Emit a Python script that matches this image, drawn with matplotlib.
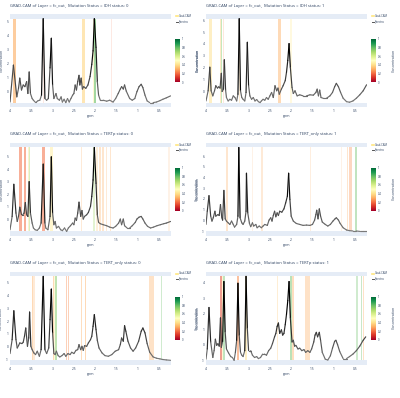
import numpy as np
import matplotlib
matplotlib.use("Agg")
import matplotlib.pyplot as plt
from matplotlib.collections import LineCollection
from matplotlib.colors import LinearSegmentedColormap, Normalize
from matplotlib.lines import Line2D
import matplotlib as mpl

# ---------------- data ----------------
titles = [
    "GRAD-CAM of Layer = fc_out,  Mutation Status = IDH status: 0",
    "GRAD-CAM of Layer = fc_out,  Mutation Status = IDH status: 1",
    "GRAD-CAM of Layer = fc_out,  Mutation Status = TERTp status: 0",
    "GRAD-CAM of Layer = fc_out,  Mutation Status = TERT_only status: 1",
    "GRAD-CAM of Layer = fc_out,  Mutation Status = TERT_only status: 0",
    "GRAD-CAM of Layer = fc_out,  Mutation Status = TERTp status: 1",
]
x_ticks = [4, 3.5, 3, 2.5, 2, 1.5, 1, 0.5]
x_tick_labels = ["4", "3.5", "3", "2.5", "2", "1.5", "1", "0.5"]
cbar_ticks = [0, 0.2, 0.4, 0.6, 0.8, 1]
cbar_tick_labels = ["0", "0.2", "0.4", "0.6", "0.8", "1"]

ppm_idh0 = [4.00, 3.92, 3.84, 3.80, 3.77, 3.73, 3.69, 3.65, 3.61, 3.58, 3.55, 3.52, 3.48, 3.45, 3.41, 3.38, 3.34, 3.30, 3.26, 3.22,
            3.18, 3.14, 3.10, 3.06, 3.03, 3.00, 2.97, 2.92, 2.89, 2.84, 2.80, 2.77, 2.73, 2.69, 2.65, 2.61, 2.57, 2.53, 2.50, 2.47,
            2.44, 2.41, 2.38, 2.36, 2.33, 2.30, 2.27, 2.22, 2.17, 2.12, 2.08, 2.05, 2.02, 1.98, 1.95, 1.92, 1.88, 1.81, 1.73, 1.66,
            1.58, 1.52, 1.46, 1.41, 1.38, 1.34, 1.31, 1.27, 1.19, 1.13, 1.07, 1.02, 0.97, 0.92, 0.88, 0.83, 0.78, 0.72, 0.64, 0.56,
            0.48, 0.41, 0.33, 0.23]
conc_idh0 = [-0.76, 1.88, -0.39, 0.22, 0.95, 0.10, 0.46, 0.34, 0.70, -0.15, 1.39, -0.15, -0.51, -0.63, -0.76, -0.76, -0.66, -0.63, -0.27, 5.20,
             -0.51, -0.63, -0.51, 1.68, 3.80, 0.46, -0.51, -0.15, -0.51, -0.63, -0.39, -0.76, -0.56, -0.80, -0.51, -0.76, -0.51, -0.27, -0.15, 0.46,
             0.10, 0.70, 1.15, 0.46, 0.95, 0.17, 0.34, 0.22, 0.46, 1.07, 1.93, 2.90, 5.20, 3.15, 0.70, -0.27, -0.63, -0.63, -0.70, -0.63,
             -0.76, -0.51, -0.15, 0.17, 0.34, 0.17, 0.46, 0.02, -0.51, -0.63, -0.51, -0.02, 0.34, 0.51, 0.27, -0.27, -0.68, -0.80, -0.80, -0.76,
             -0.66, -0.56, -0.46, -0.32]

ppm_idh1 = [4.00, 3.95, 3.91, 3.88, 3.84, 3.80, 3.77, 3.73, 3.70, 3.67, 3.64, 3.62, 3.59, 3.57, 3.54, 3.52, 3.48, 3.44, 3.40, 3.36,
            3.32, 3.28, 3.25, 3.22, 3.19, 3.16, 3.13, 3.09, 3.06, 3.03, 3.00, 2.97, 2.93, 2.89, 2.85, 2.81, 2.77, 2.73, 2.70, 2.66,
            2.62, 2.58, 2.54, 2.50, 2.46, 2.42, 2.38, 2.34, 2.31, 2.28, 2.23, 2.19, 2.14, 2.11, 2.08, 2.05, 2.02, 1.98, 1.95, 1.91,
            1.86, 1.80, 1.72, 1.64, 1.56, 1.48, 1.42, 1.39, 1.36, 1.33, 1.30, 1.25, 1.17, 1.09, 1.03, 0.98, 0.94, 0.89, 0.84, 0.78,
            0.70, 0.63, 0.55, 0.47, 0.39, 0.31, 0.23]
conc_idh1 = [-0.83, 0.03, 2.03, 0.03, -0.40, 0.03, 0.46, 0.26, 0.37, 0.26, 1.51, -0.03, 0.17, 2.66, 0.09, -0.54, -0.83, -0.69, -0.77, -0.40,
             -0.54, -0.83, -0.26, 6.14, 0.03, -0.54, -0.69, -0.83, -0.11, 4.14, 0.46, -0.40, -0.69, -0.54, -0.83, -0.71, -0.89, -0.97, -0.83, -0.69,
             -0.77, -0.54, -0.69, -0.40, -0.11, -0.54, 0.46, 0.03, 0.26, -0.26, 0.17, 0.46, 0.89, 1.60, 2.60, 4.03, 2.03, 0.31, -0.20, 0.03,
             -0.40, -0.31, -0.40, -0.40, -0.31, -0.34, -0.11, 0.17, -0.40, 0.09, -0.54, -0.60, -0.60, -0.40, -0.11, 0.37, 0.66, 0.37, -0.11, -0.60,
             -0.89, -0.94, -0.83, -0.60, -0.31, 0.03, 0.54]

ppm_tertp0 = [4.00, 3.95, 3.91, 3.86, 3.83, 3.80, 3.77, 3.73, 3.70, 3.67, 3.64, 3.61, 3.58, 3.55, 3.52, 3.48, 3.45, 3.41, 3.36, 3.31,
              3.27, 3.22, 3.18, 3.16, 3.11, 3.06, 3.03, 3.00, 2.97, 2.94, 2.91, 2.86, 2.81, 2.77, 2.72, 2.67, 2.63, 2.58, 2.53, 2.50,
              2.47, 2.44, 2.41, 2.38, 2.34, 2.31, 2.28, 2.25, 2.20, 2.16, 2.11, 2.08, 2.05, 2.02, 1.98, 1.95, 1.92, 1.88, 1.81, 1.73,
              1.66, 1.58, 1.52, 1.45, 1.41, 1.38, 1.34, 1.31, 1.25, 1.19, 1.13, 1.06, 1.02, 0.97, 0.92, 0.88, 0.83, 0.77, 0.70, 0.63,
              0.55, 0.47, 0.39, 0.33, 0.23]
conc_tertp0 = [-0.82, 0.24, 2.79, 0.50, -0.16, 0.24, 0.97, 0.37, 0.37, 0.50, 1.34, 0.37, 0.24, 3.00, 0.50, -0.29, -0.68, -0.82, -0.87, -0.68,
               -0.29, 4.39, -0.29, -0.68, -0.82, 0.24, 4.97, 0.50, -0.42, -0.16, -0.68, -0.55, -0.82, -0.89, -0.68, -0.95, -0.68, -0.50, -0.29, -0.42,
               0.11, -0.08, 0.50, 1.37, 0.24, 0.71, 0.03, 0.24, 0.37, 0.55, 1.03, 1.82, 3.13, 5.71, 2.87, 0.37, -0.24, -0.34, -0.42, -0.50,
               -0.61, -0.68, -0.55, -0.29, 0.03, -0.42, 0.03, -0.50, -0.68, -0.68, -0.50, -0.24, 0.03, 0.18, 0.24, 0.03, -0.29, -0.55, -0.68, -0.61,
               -0.50, -0.42, -0.34, -0.29, -0.16]

ppm_tertonly1 = [4.00, 3.97, 3.93, 3.89, 3.86, 3.83, 3.79, 3.77, 3.72, 3.69, 3.66, 3.63, 3.61, 3.58, 3.55, 3.52, 3.48, 3.44, 3.40, 3.36,
                 3.33, 3.28, 3.25, 3.23, 3.20, 3.16, 3.13, 3.09, 3.06, 3.05, 3.02, 2.98, 2.95, 2.91, 2.88, 2.83, 2.80, 2.75, 2.70, 2.66,
                 2.62, 2.56, 2.52, 2.48, 2.45, 2.42, 2.39, 2.36, 2.33, 2.30, 2.27, 2.22, 2.17, 2.13, 2.09, 2.06, 2.03, 2.00, 1.95, 1.88,
                 1.80, 1.72, 1.64, 1.56, 1.50, 1.45, 1.42, 1.40, 1.37, 1.34, 1.31, 1.27, 1.20, 1.14, 1.08, 1.02, 0.97, 0.94, 0.89, 0.85,
                 0.78, 0.70, 0.63, 0.55, 0.47, 0.39, 0.31, 0.23]
conc_tertonly1 = [-0.37, 0.86, 2.31, 0.40, -0.06, 0.25, 0.86, 0.40, 0.55, 0.46, 1.48, 0.25, 0.03, 2.80, 0.15, -0.06, -0.22, -0.37, -0.06, -0.37,
                  -0.62, -0.37, 0.40, 6.80, 0.25, -0.22, -0.37, -0.06, 0.86, 4.40, 0.71, -0.28, -0.58, -0.22, -0.52, -0.37, -0.68, -0.52, -0.68, -0.52,
                  -0.37, -0.46, 0.03, 0.25, -0.06, 0.46, 0.86, 0.34, 0.71, 0.46, 0.86, 0.77, 1.08, 1.63, 2.25, 4.40, 1.94, 0.40, -0.06, -0.28,
                  -0.37, -0.46, -0.43, -0.46, -0.37, 0.03, 0.55, 0.95, 0.15, 1.08, 0.40, -0.15, -0.37, -0.52, -0.37, -0.06, 0.15, 0.25, 0.03, -0.28,
                  -0.68, -0.89, -0.95, -0.98, -0.98, -1.02, -1.02, -1.02]

ppm_tertonly0 = [4.00, 3.95, 3.91, 3.86, 3.83, 3.80, 3.77, 3.72, 3.69, 3.66, 3.63, 3.59, 3.56, 3.54, 3.51, 3.48, 3.44, 3.40, 3.36, 3.31,
                 3.27, 3.22, 3.18, 3.14, 3.09, 3.06, 3.03, 3.00, 2.97, 2.94, 2.91, 2.87, 2.83, 2.78, 2.73, 2.69, 2.64, 2.59, 2.55, 2.50,
                 2.45, 2.41, 2.38, 2.34, 2.31, 2.28, 2.25, 2.20, 2.16, 2.11, 2.08, 2.05, 2.02, 1.98, 1.95, 1.91, 1.84, 1.77, 1.69, 1.61,
                 1.53, 1.45, 1.41, 1.38, 1.34, 1.31, 1.28, 1.23, 1.17, 1.11, 1.05, 0.98, 0.92, 0.88, 0.83, 0.78, 0.72, 0.64, 0.56, 0.48,
                 0.41, 0.33, 0.23]
conc_tertonly0 = [-0.51, 0.56, 2.79, 0.56, -0.08, 0.10, 0.31, 0.26, 0.36, 0.82, 1.46, 0.05, 0.69, 2.69, 0.05, -0.21, -0.46, -0.59, -0.33, -0.72,
                  -0.21, 5.44, -0.21, -0.51, -0.08, 2.10, 4.46, 1.08, -0.51, -0.59, -0.33, -0.67, -0.77, -0.67, -0.51, -0.72, -0.51, -0.59, -0.41, -0.51,
                  -0.26, -0.21, 0.18, -0.21, 0.05, -0.26, 0.10, 0.05, 0.31, 0.56, 0.82, 1.59, 2.49, 1.33, 0.51, -0.08, -0.46, -0.67, -0.72, -0.59,
                  -0.33, -0.21, 0.18, 0.69, 0.44, 1.64, 1.21, 0.44, -0.08, -0.33, -0.08, 0.44, 1.21, 1.46, 1.08, 0.26, -0.41, -0.77, -0.87, -0.92,
                  -0.97, -1.00, -1.03]

ppm_tertp1 = [4.00, 3.97, 3.93, 3.89, 3.84, 3.81, 3.78, 3.75, 3.72, 3.69, 3.66, 3.64, 3.61, 3.58, 3.55, 3.52, 3.47, 3.42, 3.38, 3.34,
              3.31, 3.28, 3.25, 3.22, 3.19, 3.16, 3.13, 3.09, 3.06, 3.03, 3.00, 2.95, 2.91, 2.86, 2.81, 2.77, 2.72, 2.67, 2.63, 2.58,
              2.53, 2.48, 2.44, 2.39, 2.36, 2.33, 2.30, 2.27, 2.23, 2.20, 2.17, 2.14, 2.11, 2.08, 2.05, 2.02, 1.98, 1.95, 1.92, 1.89,
              1.84, 1.80, 1.75, 1.70, 1.66, 1.61, 1.56, 1.52, 1.47, 1.44, 1.41, 1.38, 1.34, 1.31, 1.27, 1.20, 1.14, 1.08, 1.03, 0.98,
              0.95, 0.91, 0.86, 0.78, 0.70, 0.63, 0.55, 0.47, 0.39, 0.31, 0.25]
conc_tertp1 = [-0.93, -0.27, 2.40, 0.18, -0.82, -0.38, 0.36, -0.04, 0.07, -0.09, 1.73, -0.16, 0.22, 4.07, 0.84, -0.27, -0.53, -0.76, -0.82, -1.00,
               -0.49, 0.29, 3.96, 0.62, -0.49, -0.67, -0.76, -0.38, 4.40, 1.07, -0.38, -0.38, -0.67, -0.82, -0.76, -0.89, -0.82, -0.60, -0.60, -0.67,
               -0.38, -0.22, 0.07, 0.51, 0.73, 1.18, 1.40, 0.73, 0.96, 0.62, 0.73, 1.29, 1.96, 2.84, 4.07, 1.73, 0.18, 0.29, -0.09, -0.04,
               -0.27, -0.22, -0.38, -0.31, -0.49, -0.38, -0.49, -0.27, 0.18, 0.62, 0.80, 0.51, 0.80, 0.29, -0.49, -0.93, -0.98, -0.71, -0.22, 0.22,
               0.29, 0.00, -0.44, -0.89, -0.89, -0.76, -0.60, -0.38, -0.09, 0.29, 0.51]

# Grad-CAM highlighted regions: ppm start, ppm end, importance, opacity
cam_lo_idh0 = [3.92, 3.225, 2.30, 2.04, 2.03, 1.62]
cam_hi_idh0 = [3.86, 3.21, 2.23, 2.03, 1.97, 1.61]
cam_val_idh0 = [0.30, 0.20, 0.38, 0.45, 0.80, 0.20]
cam_alpha_idh0 = [0.6, 0.15, 0.6, 0.5, 0.6, 0.15]

cam_lo_idh1 = [3.92, 3.67, 3.65, 3.61, 3.225, 2.30, 2.02]
cam_hi_idh1 = [3.87, 3.65, 3.62, 3.58, 3.21, 2.25, 1.98]
cam_val_idh1 = [0.40, 0.35, 0.75, 0.25, 0.35, 0.30, 0.45]
cam_alpha_idh1 = [0.5, 0.4, 0.45, 0.2, 0.3, 0.45, 0.35]

cam_lo_tertp0 = [3.78, 3.67, 3.58, 3.55, 3.25, 3.06, 2.39, 2.34, 2.05, 1.97, 1.90, 1.83, 1.75, 1.66, 0.29]
cam_hi_tertp0 = [3.73, 3.63, 3.55, 3.52, 3.19, 3.00, 2.37, 2.31, 2.01, 1.94, 1.86, 1.80, 1.72, 1.63, 0.25]
cam_val_tertp0 = [0.20, 0.20, 0.42, 0.70, 0.20, 0.45, 0.30, 0.30, 0.70, 0.35, 0.30, 0.30, 0.30, 0.30, 0.30]
cam_alpha_tertp0 = [0.55, 0.55, 0.45, 0.4, 0.55, 0.55, 0.2, 0.25, 0.3, 0.25, 0.3, 0.3, 0.25, 0.3, 0.15]

cam_lo_tertonly1 = [3.52, 2.92, 2.70, 1.55, 0.83, 0.70, 0.64, 0.50]
cam_hi_tertonly1 = [3.48, 2.90, 2.67, 1.53, 0.81, 0.66, 0.58, 0.46]
cam_val_tertonly1 = [0.30, 0.30, 0.30, 0.30, 0.30, 0.30, 0.25, 0.80]
cam_alpha_tertonly1 = [0.3, 0.15, 0.25, 0.2, 0.15, 0.3, 0.35, 0.4]

cam_lo_tertonly0 = [3.49, 3.45, 3.00, 2.97, 2.94, 2.68, 2.63, 2.33, 2.24, 0.73, 0.46]
cam_hi_tertonly0 = [3.47, 3.42, 2.97, 2.95, 2.89, 2.66, 2.61, 2.30, 2.21, 0.62, 0.44]
cam_val_tertonly0 = [0.30, 0.30, 0.30, 0.45, 0.75, 0.25, 0.25, 0.30, 0.30, 0.30, 0.80]
cam_alpha_tertonly0 = [0.45, 0.25, 0.45, 0.4, 0.5, 0.4, 0.4, 0.4, 0.45, 0.35, 0.3]

cam_lo_tertp1 = [3.68, 3.62, 3.59, 3.28, 3.08, 2.34, 2.02, 1.97, 1.67, 0.47, 0.36, 0.32]
cam_hi_tertp1 = [3.62, 3.59, 3.55, 3.22, 3.03, 2.30, 1.98, 1.94, 1.56, 0.43, 0.33, 0.29]
cam_val_tertp1 = [0.15, 0.45, 0.80, 0.25, 0.40, 0.35, 0.80, 0.30, 0.30, 0.80, 0.80, 0.30]
cam_alpha_tertp1 = [0.55, 0.5, 0.4, 0.55, 0.5, 0.3, 0.45, 0.4, 0.35, 0.3, 0.35, 0.35]

panels = [
    (ppm_idh0, conc_idh0, cam_lo_idh0, cam_hi_idh0, cam_val_idh0, cam_alpha_idh0),
    (ppm_idh1, conc_idh1, cam_lo_idh1, cam_hi_idh1, cam_val_idh1, cam_alpha_idh1),
    (ppm_tertp0, conc_tertp0, cam_lo_tertp0, cam_hi_tertp0, cam_val_tertp0, cam_alpha_tertp0),
    (ppm_tertonly1, conc_tertonly1, cam_lo_tertonly1, cam_hi_tertonly1, cam_val_tertonly1, cam_alpha_tertonly1),
    (ppm_tertonly0, conc_tertonly0, cam_lo_tertonly0, cam_hi_tertonly0, cam_val_tertonly0, cam_alpha_tertonly0),
    (ppm_tertp1, conc_tertp1, cam_lo_tertp1, cam_hi_tertp1, cam_val_tertp1, cam_alpha_tertp1),
]

# ---------------- layout ----------------
W, H = 400, 398
fig = plt.figure(figsize=(W / 100, H / 100), dpi=100)
fig.patch.set_facecolor("white")
FONT = "Open Sans"
TXT = "#2a3f5f"
cmap = plt.get_cmap("RdYlGn")
line_cmap = LinearSegmentedColormap.from_list("gk", ["#7a7a7a", "#000000"])

col_left = [10, 206]
plot_w = 161
row_top = [14, 142.8, 271.7]
plot_h = 93.3


def fx(px):
    return px / W


def fy(py):
    return 1 - py / H


for i, (ppm, conc, lo, hi, val, alp) in enumerate(panels):
    r, c = divmod(i, 2)
    L = col_left[c]
    T = row_top[r]
    ax = fig.add_axes([fx(L), fy(T + plot_h), plot_w / W, plot_h / H])
    ax.set_facecolor("#E5ECF6")
    x = np.array(ppm)
    y = np.array(conc)
    ymin, ymax = y.min(), y.max()
    span = ymax - ymin
    xlo, xhi = 4.0, 0.22
    ax.fill_between([xlo, xhi], ymin, ymax, color="white", lw=0, zorder=1)
    for a, b, v, al in zip(lo, hi, val, alp):
        ax.fill_between([a, b], ymin, ymax, color=cmap(v), alpha=al, lw=0, zorder=2)
    pts = np.column_stack([x, y]).reshape(-1, 1, 2)
    segs = np.concatenate([pts[:-1], pts[1:]], axis=1)
    lc = LineCollection(segs, cmap=line_cmap, norm=Normalize(ymin, ymin + 0.6 * span), lw=0.85, zorder=3,
                        capstyle="round", joinstyle="round")
    lc.set_array((y[:-1] + y[1:]) / 2)
    ax.add_collection(lc)
    ax.set_xlim(xlo, xhi)
    ax.set_ylim(ymin - 0.056 * span, ymax + 0.056 * span)
    ax.set_xticks(x_ticks)
    ax.set_xticklabels(x_tick_labels)
    yt = np.arange(np.ceil(ymin), np.floor(ymax) + 1)
    ax.set_yticks(yt)
    ax.set_yticklabels([str(int(t)) for t in yt])
    ax.tick_params(length=0, labelsize=2.3, labelcolor=TXT, pad=1.2)
    for lab in ax.get_xticklabels() + ax.get_yticklabels():
        lab.set_fontfamily(FONT)
    for s in ax.spines.values():
        s.set_visible(False)
    ax.set_xlabel("ppm", fontsize=2.5, color=TXT, labelpad=1.0, family=FONT)
    ax.set_ylabel("Concentration", fontsize=2.5, color=TXT, labelpad=2.0, family=FONT)

    fig.text(fx(L), fy(T - 8.3), titles[i], fontsize=3.0, color=TXT, family=FONT, va="center", ha="left")

    # legend
    R = L + plot_w
    fig.add_artist(Line2D([fx(R + 4.5), fx(R + 6.5)], [fy(T + 1.8)] * 2, color="#FFE680", lw=1.2))
    fig.text(fx(R + 8), fy(T + 1.8), "Grad-CAM", fontsize=2.0, color=TXT, family=FONT, va="center")
    fig.add_artist(Line2D([fx(R + 4.5), fx(R + 7.0)], [fy(T + 7.6)] * 2, color="#555555", lw=0.7))
    fig.text(fx(R + 8), fy(T + 7.6), "Spectra", fontsize=2.0, color=TXT, family=FONT, va="center")

    # colorbar
    cax = fig.add_axes([fx(R + 4), fy(T + 68), 5 / W, 43 / H])
    cb = mpl.colorbar.ColorbarBase(cax, cmap=cmap, norm=Normalize(0, 1), ticks=cbar_ticks)
    cb.set_ticklabels(cbar_tick_labels)
    cb.outline.set_visible(False)
    cax.tick_params(length=0, labelsize=2.0, labelcolor=TXT, pad=1.2)
    for lab in cax.get_yticklabels():
        lab.set_fontfamily(FONT)
    fig.text(fx(R + 26.5), fy(T + 46), "Concentration", rotation=90, fontsize=2.5, color=TXT,
             family=FONT, va="center", ha="center")

fig.savefig("out.png", dpi=100, facecolor="white")
